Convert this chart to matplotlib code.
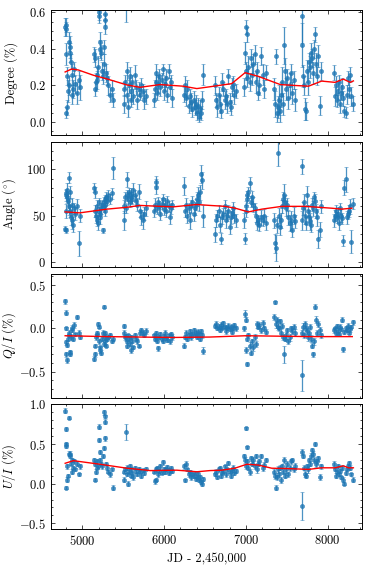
import matplotlib
matplotlib.use("Agg")
import matplotlib.pyplot as plt
from matplotlib.ticker import MultipleLocator

# ---------------- data ----------------
jd = [
    4790, 4795, 4798, 4800, 4805, 4810, 4818, 4825, 4832, 4840, 4848, 4855, 4862, 4870, 4878, 4886, 4895, 4910, 4930, 4955, 4970,
    5145, 5150, 5158, 5166, 5175, 5185, 5195, 5202, 5206, 5212, 5222, 5232, 5242, 5252, 5262, 5270, 5275, 5279, 5283, 5292, 5305, 5318, 5335, 5360, 5378,
    5534,
    5505, 5515, 5525, 5540, 5550, 5560, 5570, 5580, 5590, 5600, 5612, 5625, 5640, 5655, 5670, 5690, 5705, 5720, 5740, 5760, 5780,
    5875, 5885, 5895, 5905, 5915, 5925, 5940, 5955, 5970, 5985, 5998, 6010, 6025, 6040, 6055, 6070, 6085, 6100,
    6240, 6255, 6270, 6285, 6300, 6315, 6330, 6345, 6360, 6375, 6390, 6405, 6415, 6425, 6435, 6448, 6460, 6472,
    6620, 6635, 6650, 6665, 6680, 6695, 6710, 6725, 6740, 6755, 6770, 6785, 6800, 6815, 6830, 6845, 6860, 6880,
    6975, 6985, 6995, 7005, 7012, 7018, 7030, 7045, 7060, 7075, 7090, 7105, 7120, 7135, 7150, 7165, 7185, 7205, 7225, 7245,
    7340, 7352, 7365, 7378, 7390, 7402, 7415, 7428, 7440, 7452, 7465, 7478, 7490, 7505, 7520, 7535, 7550, 7565, 7585, 7605,
    7680, 7690, 7700, 7712, 7724, 7736, 7748, 7760, 7772, 7784, 7796, 7808, 7820, 7832, 7845, 7858, 7870, 7885, 7900, 7920,
    8080, 8092, 8105, 8118, 8130, 8143, 8155, 8168, 8180, 8192, 8205, 8218, 8230, 8243, 8256, 8270, 8285, 8305,
]

degree = [
    0.52, 0.53, 0.37, 0.05, 0.51, 0.08, 0.25, 0.17, 0.20, 0.44, 0.41, 0.38, 0.33, 0.15, 0.26, 0.18, 0.29, 0.21, 0.16, 0.23, 0.19,
    0.37, 0.35, 0.18, 0.22, 0.26, 0.23, 0.30, 0.60, 0.58, 0.44, 0.40, 0.38, 0.28, 0.25, 0.32, 0.41, 0.59, 0.56, 0.52, 0.27, 0.24, 0.20, 0.15, 0.18, 0.12,
    0.66,
    0.18, 0.10, 0.22, 0.28, 0.15, 0.08, 0.20, 0.25, 0.12, 0.17, 0.22, 0.14, 0.26, 0.19, 0.12, 0.18, 0.15, 0.20, 0.17, 0.12, 0.14,
    0.12, 0.18, 0.22, 0.27, 0.16, 0.21, 0.25, 0.19, 0.23, 0.29, 0.17, 0.21, 0.24, 0.15, 0.28, 0.19, 0.22, 0.13,
    0.15, 0.20, 0.13, 0.18, 0.09, 0.14, 0.11, 0.07, 0.12, 0.08, 0.10, 0.05, 0.09, 0.03, 0.07, 0.05, 0.12, 0.26,
    0.20, 0.12, 0.08, 0.15, 0.10, 0.06, 0.22, 0.18, 0.12, 0.14, 0.10, 0.25, 0.11, 0.08, 0.19, 0.21, 0.15, 0.17,
    0.19, 0.38, 0.28, 0.52, 0.48, 0.24, 0.30, 0.22, 0.35, 0.26, 0.32, 0.37, 0.22, 0.28, 0.16, 0.20, 0.36, 0.26, 0.18, 0.27,
    0.18, 0.10, 0.36, 0.05, 0.08, 0.12, 0.06, 0.15, 0.22, 0.10, 0.42, 0.28, 0.18, 0.24, 0.13, 0.20, 0.27, 0.16, 0.23, 0.12,
    0.58, 0.42, 0.25, 0.20, 0.07, 0.06, 0.28, 0.22, 0.33, 0.30, 0.38, 0.35, 0.27, 0.40, 0.48, 0.32, 0.25, 0.36, 0.09, 0.28,
    0.27, 0.14, 0.20, 0.12, 0.17, 0.22, 0.10, 0.16, 0.19, 0.13, 0.06, 0.05, 0.15, 0.24, 0.18, 0.26, 0.14, 0.10,
]
degree_err = [
    0.05, 0.04, 0.06, 0.03, 0.04, 0.04, 0.05, 0.06, 0.05, 0.05, 0.06, 0.05, 0.04, 0.05, 0.06, 0.05, 0.04, 0.05, 0.06, 0.05, 0.07,
    0.04, 0.05, 0.04, 0.05, 0.04, 0.05, 0.06, 0.04, 0.04, 0.05, 0.05, 0.04, 0.05, 0.04, 0.05, 0.04, 0.03, 0.03, 0.04, 0.05, 0.04, 0.05, 0.04, 0.05, 0.04,
    0.11,
    0.04, 0.05, 0.04, 0.05, 0.04, 0.05, 0.04, 0.05, 0.04, 0.05, 0.04, 0.04, 0.05, 0.04, 0.05, 0.04, 0.03, 0.04, 0.04, 0.05, 0.04,
    0.04, 0.05, 0.04, 0.05, 0.04, 0.05, 0.04, 0.05, 0.04, 0.03, 0.05, 0.04, 0.05, 0.04, 0.04, 0.05, 0.04, 0.05,
    0.04, 0.05, 0.04, 0.05, 0.04, 0.04, 0.05, 0.04, 0.05, 0.04, 0.05, 0.04, 0.04, 0.03, 0.05, 0.04, 0.05, 0.06,
    0.05, 0.04, 0.05, 0.04, 0.05, 0.04, 0.05, 0.04, 0.05, 0.04, 0.05, 0.04, 0.05, 0.04, 0.05, 0.04, 0.05, 0.04,
    0.05, 0.06, 0.05, 0.04, 0.04, 0.05, 0.06, 0.05, 0.05, 0.06, 0.05, 0.05, 0.06, 0.05, 0.04, 0.05, 0.05, 0.06, 0.05, 0.04,
    0.06, 0.07, 0.04, 0.05, 0.06, 0.08, 0.06, 0.07, 0.08, 0.06, 0.10, 0.07, 0.06, 0.05, 0.06, 0.07, 0.05, 0.06, 0.05, 0.06,
    0.15, 0.12, 0.06, 0.05, 0.06, 0.05, 0.06, 0.07, 0.05, 0.06, 0.05, 0.05, 0.06, 0.05, 0.04, 0.06, 0.05, 0.06, 0.05, 0.05,
    0.04, 0.05, 0.05, 0.04, 0.05, 0.04, 0.05, 0.04, 0.05, 0.04, 0.03, 0.03, 0.05, 0.04, 0.05, 0.04, 0.05, 0.04,
]

angle = [
    36, 34, 72, 55, 74, 70, 78, 66, 60, 91, 75, 55, 48, 45, 62, 40, 58, 52, 60, 20, 50,
    80, 75, 55, 50, 45, 60, 42, 55, 65, 52, 48, 58, 62, 34, 60, 65, 68, 62, 55, 70, 66, 72, 68, 74, 101,
    58,
    60, 45, 70, 89, 72, 68, 75, 65, 73, 70, 68, 78, 72, 66, 62, 76, 55, 48, 45, 52, 58,
    55, 62, 81, 86, 58, 65, 60, 52, 63, 68, 57, 62, 55, 66, 60, 48, 58, 62,
    82, 55, 62, 50, 58, 45, 60, 65, 52, 58, 62, 68, 72, 65, 75, 95, 88, 50,
    30, 45, 50, 55, 40, 25, 48, 52, 60, 45, 50, 55, 38, 48, 53, 58, 50, 45,
    45, 25, 55, 60, 68, 72, 75, 85, 65, 70, 62, 58, 50, 42, 45, 40, 48, 45, 50, 42,
    45, 20, 15, 40, 117, 50, 38, 45, 60, 68, 72, 65, 58, 62, 48, 42, 45, 35, 50, 44,
    103, 45, 58, 65, 50, 42, 72, 55, 48, 44, 40, 62, 58, 70, 66, 55, 48, 25, 35, 60,
    45, 50, 55, 48, 52, 42, 58, 50, 47, 23, 80, 89, 48, 52, 55, 60, 22, 63,
]
angle_err = [
    3, 3, 6, 8, 5, 6, 7, 8, 9, 6, 7, 6, 8, 9, 7, 8, 6, 7, 8, 13, 7,
    5, 6, 7, 8, 6, 7, 8, 4, 4, 6, 7, 6, 5, 3, 6, 5, 4, 4, 5, 6, 5, 6, 5, 6, 12,
    5,
    7, 10, 6, 8, 6, 7, 5, 6, 7, 6, 5, 7, 6, 6, 7, 8, 7, 8, 9, 7, 8,
    6, 7, 8, 7, 6, 5, 6, 7, 6, 5, 6, 7, 6, 5, 6, 7, 6, 5,
    10, 6, 7, 8, 6, 9, 7, 6, 8, 7, 6, 8, 9, 10, 8, 10, 9, 12,
    8, 7, 6, 7, 8, 6, 7, 6, 7, 8, 6, 7, 8, 7, 6, 7, 8, 7,
    8, 6, 7, 6, 4, 5, 6, 7, 6, 7, 8, 6, 7, 8, 6, 7, 8, 6, 7, 8,
    8, 10, 14, 9, 13, 8, 9, 8, 7, 8, 12, 7, 8, 7, 8, 9, 10, 8, 9, 7,
    8, 10, 7, 8, 9, 8, 10, 7, 8, 9, 8, 7, 8, 6, 7, 8, 9, 10, 8, 7,
    7, 6, 7, 6, 7, 8, 6, 7, 6, 6, 8, 13, 7, 6, 7, 8, 12, 6,
]

q_over_i = [
    0.31, 0.18, 0.00, -0.30, -0.16, -0.19, -0.37, -0.12, -0.08, -0.05, -0.29, -0.27, -0.10, -0.02, 0.01, -0.12, 0.04, -0.07, 0.13, -0.05, -0.10,
    -0.35, -0.30, -0.20, -0.10, -0.05, -0.08, 0.05, 0.02, -0.15, -0.25, -0.22, -0.28, -0.12, -0.05, -0.18, 0.25, -0.10, -0.05, -0.15, -0.20, -0.12, -0.10, -0.08, -0.15, -0.12,
    -0.10,
    -0.05, 0.03, -0.10, -0.15, -0.20, -0.08, -0.12, -0.18, -0.25, -0.10, -0.14, -0.22, -0.08, -0.12, -0.15, -0.20, -0.05, -0.02, -0.05, -0.08, -0.03,
    -0.08, -0.12, -0.05, -0.10, -0.15, -0.23, -0.10, -0.07, -0.12, -0.14, -0.09, -0.05, -0.11, -0.13, -0.08, -0.15, -0.06, -0.10,
    -0.20, -0.10, -0.05, -0.12, -0.08, -0.03, -0.10, -0.06, -0.02, -0.08, -0.05, -0.10, -0.04, -0.07, -0.12, -0.03, -0.08, -0.26,
    0.03, 0.05, 0.00, 0.02, -0.02, 0.04, 0.01, 0.06, 0.02, -0.03, 0.00, 0.03, -0.01, 0.02, -0.04, 0.01, 0.04, 0.00,
    0.00, 0.17, 0.10, -0.25, -0.41, -0.12, -0.08, -0.20, -0.28, -0.15, -0.22, -0.10, -0.18, 0.05, 0.02, 0.04, -0.02, 0.06, 0.00, -0.04,
    0.13, 0.30, 0.05, 0.10, 0.02, 0.00, 0.08, -0.05, 0.03, -0.10, -0.30, -0.12, -0.08, -0.02, -0.15, -0.10, 0.00, -0.03, 0.02, -0.05,
    -0.54, -0.05, 0.02, -0.08, 0.05, 0.00, -0.03, -0.10, -0.05, 0.02, -0.12, -0.20, -0.30, -0.15, 0.25, 0.10, -0.05, 0.05, -0.02, -0.08,
    -0.02, 0.00, -0.05, 0.03, -0.03, -0.06, 0.02, -0.01, 0.10, -0.24, -0.04, 0.00, -0.02, 0.03, -0.05, -0.01, 0.02, 0.07,
]
q_err = [
    0.03, 0.03, 0.02, 0.03, 0.03, 0.02, 0.03, 0.03, 0.02, 0.03, 0.03, 0.02, 0.03, 0.02, 0.03, 0.02, 0.03, 0.02, 0.02, 0.03, 0.02,
    0.03, 0.03, 0.02, 0.03, 0.02, 0.03, 0.02, 0.02, 0.03, 0.03, 0.02, 0.03, 0.02, 0.03, 0.02, 0.02, 0.03, 0.02, 0.03, 0.02, 0.03, 0.02, 0.03, 0.02, 0.03,
    0.04,
    0.03, 0.02, 0.03, 0.02, 0.03, 0.02, 0.03, 0.02, 0.03, 0.02, 0.03, 0.02, 0.03, 0.02, 0.03, 0.02, 0.03, 0.02, 0.03, 0.02, 0.03,
    0.02, 0.03, 0.02, 0.03, 0.02, 0.03, 0.02, 0.03, 0.02, 0.03, 0.02, 0.03, 0.02, 0.03, 0.02, 0.03, 0.02, 0.03,
    0.03, 0.02, 0.03, 0.02, 0.03, 0.02, 0.03, 0.02, 0.03, 0.02, 0.03, 0.02, 0.03, 0.02, 0.03, 0.02, 0.03, 0.04,
    0.02, 0.03, 0.02, 0.03, 0.02, 0.03, 0.02, 0.03, 0.02, 0.03, 0.02, 0.03, 0.02, 0.03, 0.02, 0.03, 0.02, 0.03,
    0.03, 0.04, 0.03, 0.03, 0.02, 0.03, 0.03, 0.04, 0.03, 0.03, 0.04, 0.03, 0.03, 0.04, 0.03, 0.03, 0.03, 0.04, 0.03, 0.03,
    0.03, 0.02, 0.04, 0.03, 0.04, 0.03, 0.03, 0.04, 0.03, 0.03, 0.10, 0.03, 0.04, 0.03, 0.03, 0.04, 0.03, 0.03, 0.03, 0.04,
    0.18, 0.03, 0.04, 0.03, 0.04, 0.03, 0.03, 0.04, 0.03, 0.03, 0.04, 0.03, 0.03, 0.04, 0.03, 0.04, 0.03, 0.03, 0.04, 0.03,
    0.03, 0.02, 0.03, 0.02, 0.03, 0.02, 0.03, 0.02, 0.03, 0.03, 0.02, 0.03, 0.02, 0.03, 0.02, 0.03, 0.02, 0.03,
]

u_over_i = [
    0.92, 0.69, 0.50, 0.48, -0.05, 0.22, 0.05, 0.10, 0.38, 0.83, 0.35, 0.38, 0.25, 0.15, 0.30, 0.20, 0.28, 0.18, 0.25, 0.12, 0.22,
    0.30, 0.25, 0.05, 0.15, 0.20, 0.28, 0.22, 0.72, 0.55, 0.40, 0.30, 0.25, 0.22, 0.35, 0.45, 0.90, 0.85, 0.78, 0.57, 0.25, 0.20, 0.15, 0.12, 0.18, -0.05,
    0.65,
    0.15, 0.05, 0.18, 0.20, 0.12, 0.00, 0.15, 0.22, 0.10, 0.18, 0.14, 0.08, 0.20, 0.16, 0.12, 0.18, 0.15, 0.10, 0.17, 0.14, 0.19,
    0.15, 0.03, 0.05, 0.18, 0.20, 0.12, 0.16, 0.22, 0.14, 0.27, 0.19, 0.15, 0.18, 0.21, 0.13, 0.17, 0.20, 0.16,
    0.22, 0.04, 0.25, 0.18, 0.12, 0.15, 0.08, 0.12, 0.10, 0.14, 0.06, 0.09, 0.12, 0.04, 0.08, 0.02, 0.00, 0.06,
    0.12, 0.15, 0.08, 0.18, 0.20, 0.10, 0.14, 0.16, 0.22, 0.12, 0.18, 0.26, 0.15, 0.10, 0.17, 0.20, 0.13, 0.16,
    0.35, 0.30, 0.22, 0.70, 0.46, 0.28, 0.20, 0.15, 0.32, 0.25, 0.30, 0.22, 0.35, 0.18, 0.25, 0.28, 0.35, 0.20, 0.24, 0.30,
    0.15, 0.10, -0.05, 0.08, 0.18, 0.12, 0.20, 0.05, 0.22, 0.15, 0.30, 0.10, 0.18, 0.25, 0.12, 0.20, 0.28, 0.30, 0.18, 0.22,
    -0.28, 0.40, 0.35, 0.20, 0.12, 0.10, 0.22, 0.18, 0.30, 0.25, 0.35, 0.42, 0.38, 0.30, 0.50, 0.25, 0.28, 0.32, 0.08, 0.22,
    0.25, 0.18, 0.10, 0.15, 0.22, 0.12, 0.16, 0.08, 0.20, 0.05, 0.00, 0.14, 0.18, 0.22, 0.26, 0.20, 0.12, 0.05,
]
u_err = [
    0.03, 0.03, 0.03, 0.03, 0.02, 0.03, 0.03, 0.02, 0.03, 0.02, 0.03, 0.03, 0.02, 0.03, 0.03, 0.02, 0.03, 0.02, 0.03, 0.02, 0.03,
    0.03, 0.03, 0.02, 0.03, 0.02, 0.03, 0.02, 0.03, 0.03, 0.02, 0.03, 0.02, 0.03, 0.02, 0.03, 0.03, 0.02, 0.03, 0.03, 0.02, 0.03, 0.02, 0.03, 0.02, 0.03,
    0.10,
    0.02, 0.03, 0.02, 0.03, 0.02, 0.03, 0.02, 0.03, 0.02, 0.03, 0.02, 0.03, 0.02, 0.03, 0.02, 0.03, 0.02, 0.03, 0.02, 0.03, 0.02,
    0.02, 0.03, 0.02, 0.03, 0.02, 0.03, 0.02, 0.03, 0.02, 0.03, 0.02, 0.03, 0.02, 0.03, 0.02, 0.03, 0.02, 0.03,
    0.03, 0.02, 0.03, 0.02, 0.03, 0.02, 0.03, 0.02, 0.03, 0.02, 0.03, 0.02, 0.03, 0.02, 0.03, 0.02, 0.03, 0.03,
    0.02, 0.03, 0.02, 0.03, 0.02, 0.03, 0.02, 0.03, 0.02, 0.03, 0.02, 0.03, 0.02, 0.03, 0.02, 0.03, 0.02, 0.03,
    0.03, 0.04, 0.03, 0.02, 0.02, 0.03, 0.03, 0.04, 0.03, 0.03, 0.04, 0.03, 0.03, 0.04, 0.03, 0.03, 0.03, 0.04, 0.03, 0.03,
    0.03, 0.04, 0.03, 0.03, 0.04, 0.03, 0.03, 0.04, 0.03, 0.03, 0.04, 0.03, 0.04, 0.03, 0.03, 0.04, 0.03, 0.03, 0.03, 0.04,
    0.18, 0.04, 0.03, 0.03, 0.04, 0.03, 0.03, 0.04, 0.03, 0.03, 0.04, 0.03, 0.03, 0.04, 0.03, 0.04, 0.03, 0.03, 0.04, 0.03,
    0.03, 0.02, 0.03, 0.02, 0.03, 0.02, 0.03, 0.02, 0.03, 0.03, 0.02, 0.03, 0.02, 0.03, 0.02, 0.03, 0.02, 0.03,
]

# smooth trend curves (red)
deg_trend_jd = [4790, 4870, 4950, 5135, 5300, 5545, 5705, 5950, 6235, 6400, 6560, 6825, 6990, 7150, 7420, 7600, 7765, 7925, 8090, 8190, 8275, 8314]
deg_trend = [0.274, 0.290, 0.285, 0.256, 0.236, 0.203, 0.190, 0.205, 0.196, 0.183, 0.193, 0.210, 0.270, 0.250, 0.205, 0.200, 0.196, 0.224, 0.217, 0.235, 0.217, 0.225]

ang_trend_jd = [4790, 4970, 5135, 5300, 5545, 5705, 5950, 6115, 6400, 6560, 6745, 6870, 7030, 7195, 7440, 7725, 7890, 8050, 8170, 8295]
ang_trend = [54, 53, 55, 57, 59, 61, 60, 59.5, 62, 61, 60, 58, 54, 57, 60, 60, 59, 58, 57, 58]

q_trend_jd = [4790, 5300, 5700, 6100, 6560, 7000, 7400, 7800, 8300]
q_trend = [-0.085, -0.095, -0.100, -0.105, -0.100, -0.085, -0.090, -0.095, -0.095]

u_trend_jd = [4790, 4890, 5215, 5545, 5830, 6155, 6400, 6560, 6705, 6865, 7010, 7150, 7315, 7520, 7765, 7925, 8090, 8190, 8255, 8314]
u_trend = [0.257, 0.290, 0.245, 0.195, 0.165, 0.170, 0.150, 0.165, 0.170, 0.195, 0.245, 0.235, 0.195, 0.190, 0.180, 0.200, 0.200, 0.225, 0.200, 0.200]

# ---------------- style ----------------
plt.rcParams.update({
    "font.family": "serif",
    "font.serif": ["cmr10"],
    "mathtext.fontset": "cm",
    "axes.formatter.use_mathtext": True,
    "font.size": 9,
    "axes.linewidth": 0.7,
    "xtick.direction": "in",
    "ytick.direction": "in",
    "xtick.top": True,
    "ytick.right": True,
    "xtick.major.size": 3,
    "ytick.major.size": 3,
    "xtick.minor.size": 1.5,
    "ytick.minor.size": 1.5,
    "xtick.major.width": 0.5,
    "ytick.major.width": 0.5,
    "xtick.minor.width": 0.5,
    "ytick.minor.width": 0.5,
    "xtick.minor.visible": True,
    "ytick.minor.visible": True,
})

W, H = 373, 567
fig = plt.figure(figsize=(W / 100, H / 100), dpi=100)

left, right = 51, 362
panels = [(10, 135), (142, 267), (274, 398), (404, 529)]
axes = []
for top, bot in panels:
    ax = fig.add_axes([left / W, 1 - bot / H, (right - left) / W, (bot - top) / H])
    axes.append(ax)

blue = "#1f77b4"
series = [
    (degree, degree_err, deg_trend_jd, deg_trend, "Degree (%)", (-0.071, 0.613), 0.2, 0.05),
    (angle, angle_err, ang_trend_jd, ang_trend, r"Angle ($^{\circ}$)", (-5.4, 129.4), 50, 10),
    (q_over_i, q_err, q_trend_jd, q_trend, r"$Q/I$ (%)", (-0.803, 0.627), 0.5, 0.1),
    (u_over_i, u_err, u_trend_jd, u_trend, r"$U/I$ (%)", (-0.572, 1.005), 0.5, 0.1),
]

for i, (ax, (vals, errs, tx, ty, lab, ylim, maj, mnr)) in enumerate(zip(axes, series)):
    ax.errorbar(jd, vals, yerr=errs, fmt="o", ms=3.0, color=blue, ecolor=blue,
                elinewidth=0.9, capsize=1.4, capthick=0.8, alpha=0.8, mew=0.4, zorder=2)
    ax.plot(tx, ty, color="red", lw=1.0, zorder=3)
    ax.set_xlim(4617, 8419)
    ax.set_ylim(*ylim)
    ax.xaxis.set_major_locator(MultipleLocator(1000))
    ax.xaxis.set_minor_locator(MultipleLocator(200))
    ax.yaxis.set_major_locator(MultipleLocator(maj))
    ax.yaxis.set_minor_locator(MultipleLocator(mnr))
    ax.set_ylabel(lab, fontsize=9)
    ax.yaxis.set_label_coords(-0.105, 0.5)
    ax.tick_params(labelsize=9)
    if i < 3:
        ax.tick_params(labelbottom=False)

axes[-1].set_xlabel("JD - 2,450,000", fontsize=9)

fig.savefig("out.png", dpi=100)
